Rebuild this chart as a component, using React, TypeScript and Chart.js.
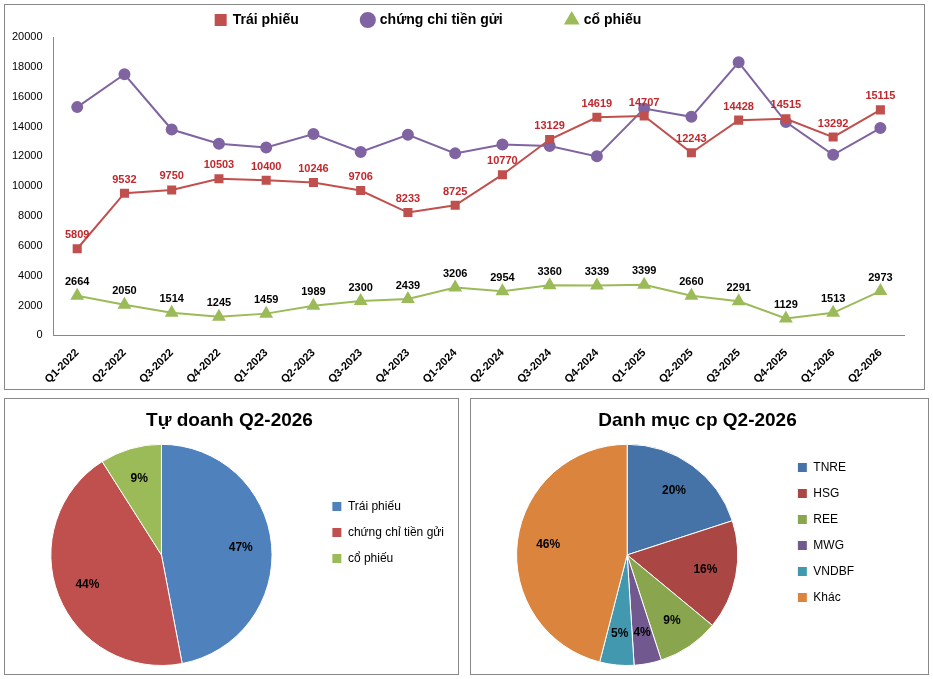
import React, { useEffect, useRef } from "react";
import { Chart, registerables } from "chart.js";
Chart.register(...registerables);

const quarters = ["Q1-2022","Q2-2022","Q3-2022","Q4-2022","Q1-2023","Q2-2023","Q3-2023","Q4-2023","Q1-2024","Q2-2024","Q3-2024","Q4-2024","Q1-2025","Q2-2025","Q3-2025","Q4-2025","Q1-2026","Q2-2026"];
const traiPhieu = [5809,9532,9750,10503,10400,10246,9706,8233,8725,10770,13129,14619,14707,12243,14428,14515,13292,15115];
const chungChi = [15300,17500,13800,12850,12600,13500,12300,13450,12200,12800,12700,12000,15200,14650,18300,14300,12100,13900];
const coPhieu = [2664,2050,1514,1245,1459,1989,2300,2439,3206,2954,3360,3339,3399,2660,2291,1129,1513,2973];
const yTicks = [0,2000,4000,6000,8000,10000,12000,14000,16000,18000,20000];

const pie1Labels = ["Trái phiếu","chứng chỉ tiền gửi","cổ phiếu"];
const pie1Values = [47,44,9];
const pie2Labels = ["TNRE","HSG","REE","MWG","VNDBF","Khác"];
const pie2Values = [20,16,9,4,5,46];

const FONT = "'Liberation Sans', Arial, sans-serif";

const lineLabels = {
  id: "lineLabels",
  afterDatasetsDraw(chart: any) {
    const ctx = chart.ctx;
    ctx.save();
    ctx.font = `bold 11px ${FONT}`;
    ctx.textAlign = "center";
    ctx.textBaseline = "bottom";
    [0, 2].forEach((di) => {
      const meta = chart.getDatasetMeta(di);
      ctx.fillStyle = di === 0 ? "#C0282D" : "#000";
      meta.data.forEach((pt: any, i: number) => {
        ctx.fillText(String(chart.data.datasets[di].data[i]), pt.x, pt.y - 8);
      });
    });
    ctx.restore();
  },
};

const pieLabels = {
  id: "pieLabels",
  afterDatasetsDraw(chart: any) {
    const ctx = chart.ctx;
    const meta = chart.getDatasetMeta(0);
    ctx.save();
    ctx.font = `bold 12px ${FONT}`;
    ctx.fillStyle = "#000";
    ctx.textAlign = "center";
    ctx.textBaseline = "middle";
    meta.data.forEach((arc: any, i: number) => {
      const a = (arc.startAngle + arc.endAngle) / 2;
      const r = arc.outerRadius * 0.72;
      ctx.fillText(chart.data.datasets[0].data[i] + "%", arc.x + Math.cos(a) * r, arc.y + Math.sin(a) * r);
    });
    ctx.restore();
  },
};

function LineChart() {
  const ref = useRef<HTMLCanvasElement>(null);
  useEffect(() => {
    const c = new Chart(ref.current!, {
      type: "line",
      data: {
        labels: quarters,
        datasets: [
          { label: "Trái phiếu", data: traiPhieu, borderColor: "#C0504D", backgroundColor: "#C0504D", pointStyle: "rect", pointRadius: 5, borderWidth: 2 },
          { label: "chứng chỉ tiền gửi", data: chungChi, borderColor: "#8064A2", backgroundColor: "#8064A2", pointStyle: "circle", pointRadius: 5, borderWidth: 2 },
          { label: "cổ phiếu", data: coPhieu, borderColor: "#9BBB59", backgroundColor: "#9BBB59", pointStyle: "triangle", pointRadius: 6, borderWidth: 2 },
        ],
      },
      options: {
        animation: false, responsive: false, maintainAspectRatio: false,
        layout: { padding: { left: 4, right: 20, top: 0, bottom: 0 } },
        plugins: {
          tooltip: { enabled: false },
          legend: {
            labels: {
              usePointStyle: true, boxWidth: 10, boxHeight: 10, padding: 8, color: "#000",
              font: { family: FONT, size: 14, weight: "bold" },
              generateLabels: (ch: any) => Chart.defaults.plugins.legend.labels.generateLabels(ch).map((l: any) => ({ ...l, text: l.text + "\u2003\u2003\u2003\u2003" })),
            },
          },
        },
        scales: {
          x: { offset: true, grid: { display: false }, border: { color: "#888" },
            ticks: { color: "#000", maxRotation: 45, minRotation: 45, font: { family: FONT, size: 11, weight: "bold" } } },
          y: { min: 0, max: 20000, grid: { display: false }, border: { color: "#888" },
            afterBuildTicks: (s: any) => { s.ticks = yTicks.map((v) => ({ value: v })); },
            ticks: { color: "#000", font: { family: FONT, size: 11 }, callback: (v: any) => String(v) } },
        },
      },
      plugins: [lineLabels],
    } as any);
    return () => c.destroy();
  }, []);
  return <canvas ref={ref} width={919} height={384} />;
}

function PieChart({ title, labels, values, colors, w, pad }: any) {
  const ref = useRef<HTMLCanvasElement>(null);
  useEffect(() => {
    const c = new Chart(ref.current!, {
      type: "pie",
      data: { labels, datasets: [{ data: values, backgroundColor: colors, borderColor: "#fff", borderWidth: 1 }] },
      options: {
        animation: false, responsive: false, maintainAspectRatio: false,
        layout: { padding: { left: 0, right: 4, top: 0, bottom: 8 } },
        plugins: {
          tooltip: { enabled: false },
          title: { display: true, text: title, color: "#000", font: { family: FONT, size: 19, weight: "bold" }, padding: { top: 10, bottom: 12 } },
          legend: {
            position: "right",
            labels: {
              boxWidth: 10, boxHeight: 10, padding: 14, color: "#000", font: { family: FONT, size: 12 },
              generateLabels: (ch: any) => Chart.overrides.pie.plugins.legend.labels.generateLabels(ch).map((l: any) => ({ ...l, text: l.text + pad })),
            },
          },
        },
      },
      plugins: [pieLabels],
    } as any);
    return () => c.destroy();
  }, []);
  return <canvas ref={ref} width={w} height={275} />;
}

export default function App() {
  const box: React.CSSProperties = { position: "absolute", border: "1px solid #888", background: "#fff" };
  return (
    <div style={{ position: "fixed", left: 0, top: 0, width: 933, height: 679, background: "#fff" }}>
      <div style={{ ...box, left: 4, top: 4, width: 919, height: 384 }}><LineChart /></div>
      <div style={{ ...box, left: 4, top: 398, width: 453, height: 275 }}>
        <PieChart title="Tự doanh Q2-2026" labels={pie1Labels} values={pie1Values} colors={["#4F81BD","#C0504D","#9BBB59"]} w={453} pad={""} />
      </div>
      <div style={{ ...box, left: 470, top: 398, width: 457, height: 275 }}>
        <PieChart title="Danh mục cp Q2-2026" labels={pie2Labels} values={pie2Values} colors={["#4572A7","#AA4643","#89A54E","#71588F","#4198AF","#DB843D"]} w={457} pad={"\u2003\u2003\u2003\u2003\u2003"} />
      </div>
    </div>
  );
}
